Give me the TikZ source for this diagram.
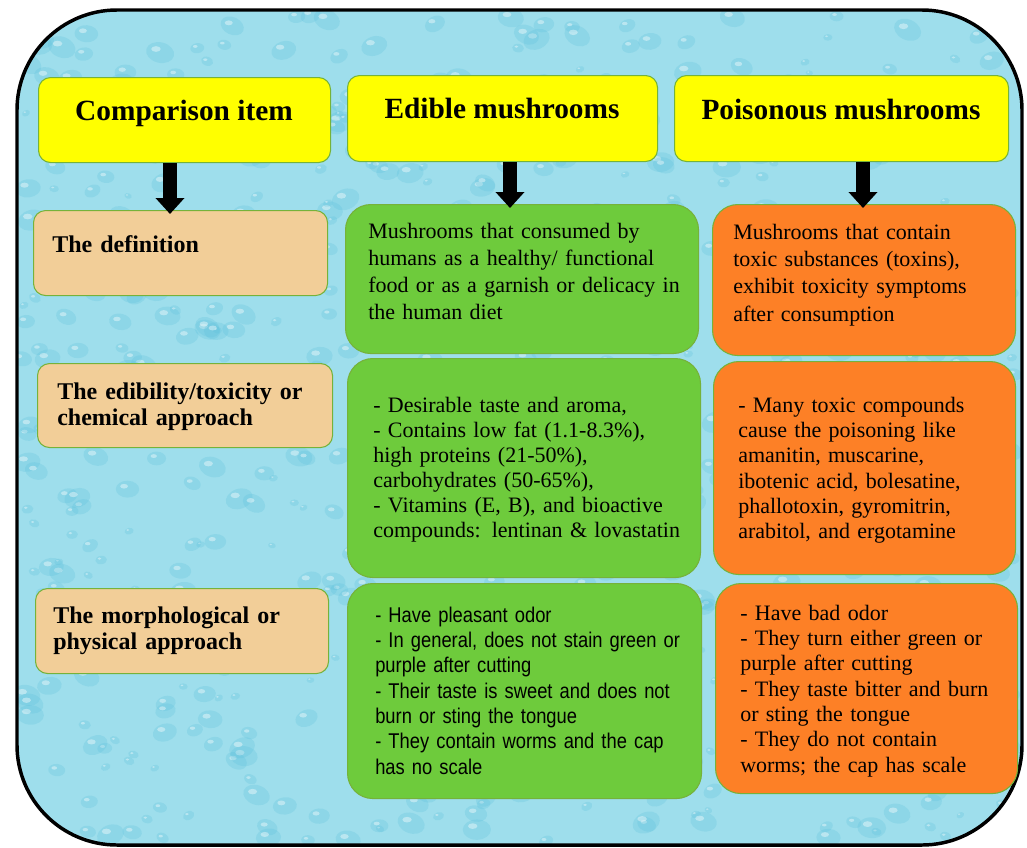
\documentclass[tikz,border=0pt]{standalone}
\usepackage{fontspec}
\setmainfont{Liberation Serif}
\newfontfamily\narrowsans[FakeStretch=0.86]{Liberation Sans}
\usetikzlibrary{arrows.meta}
\definecolor{waterblue}{RGB}{158,222,236}
\definecolor{dropblue}{RGB}{92,192,220}
\definecolor{hdryellow}{RGB}{255,255,0}
\definecolor{papyrus}{RGB}{242,206,152}
\definecolor{ediblegreen}{RGB}{110,203,60}
\definecolor{toxicorange}{RGB}{253,128,38}
\definecolor{boxedge}{RGB}{118,178,58}
\begin{document}
\begin{tikzpicture}[x=0.75pt,y=-0.75pt,
  box/.style={draw=boxedge, line width=0.8pt, anchor=north west, inner sep=0pt},
  hdrbox/.style={box, fill=hdryellow, rounded corners=9pt},
  itembox/.style={box, fill=papyrus, rounded corners=9pt},
  ediblebox/.style={box, fill=ediblegreen, rounded corners=19pt},
  toxicbox/.style={box, fill=toxicorange, rounded corners=19pt},
  hdrtext/.style={anchor=base, inner sep=0pt, font=\bfseries\fontsize{22}{26}\selectfont},
  itemtext/.style={anchor=base west, inner sep=0pt, align=left, text width=230pt, font=\bfseries\fontsize{18}{20}\selectfont},
  bodytext/.style={anchor=base west, inner sep=0pt, align=left, text width=250pt, font=\fontsize{16.5}{#1}\selectfont},
  sanstext/.style={anchor=base west, inner sep=0pt, align=left, text width=250pt, font=\narrowsans\fontsize{16}{19}\selectfont},
  downarrow/.style={line width=10pt, -{Triangle[width=21pt,length=12pt]}, shorten >=-3pt}]
\useasboundingbox (0,0) rectangle (1027,847);
% water drop background
\begin{scope}
\clip[rounded corners=75pt] (17,10) rectangle (1022,845);
\fill[waterblue] (0,0) rectangle (1027,847);
\pgfmathsetseed{42}
\foreach \i in {1,...,700}{
  \pgfmathsetmacro{\dx}{20+rnd*1000}
  \pgfmathsetmacro{\dy}{12+rnd*830}
  \pgfmathsetmacro{\dr}{3+rnd*9}
  \pgfmathsetmacro{\da}{rnd*60-30}
  \fill[dropblue, opacity=0.25, rotate around={\da:(\dx,\dy)}] (\dx,\dy) ellipse ({\dr*0.9pt} and {\dr*0.65pt});
  \fill[white, opacity=0.4] (\dx-0.35*\dr,\dy-0.3*\dr) ellipse ({\dr*0.3pt} and {\dr*0.18pt});
}
\end{scope}
\draw[line width=2.6pt, rounded corners=75pt] (17,10) rectangle (1022,845);

% headers
\node[hdrbox, minimum width=219pt, minimum height=63.75pt] (cmp) at (38,77) {};
\node[hdrbox, minimum width=232.5pt, minimum height=64.5pt] (edi) at (347,75) {};
\node[hdrbox, minimum width=250.5pt, minimum height=64.5pt] (poi) at (674,75) {};
\node[hdrtext] (cmp-t) at (184,120) {Comparison item};
\node[hdrtext] (edi-t) at (502,118) {Edible mushrooms};
\node[hdrtext] (poi-t) at (841,119) {Poisonous mushrooms};

% comparison items
\node[itembox, minimum width=220.5pt, minimum height=63.75pt] (defn) at (33,210) {};
\node[itembox, minimum width=221.25pt, minimum height=63pt] (chem) at (37,363) {};
\node[itembox, minimum width=219.75pt, minimum height=63.75pt] (morph) at (35,588) {};
\node[itemtext] (defn-t) at (52,252) {The definition};
\node[itemtext] (chem-t) at (57,399) {The edibility/toxicity or\\chemical approach};
\node[itemtext] (morph-t) at (53,623) {The morphological or\\physical approach};

% edible column
\node[ediblebox, minimum width=264.75pt, minimum height=111.75pt] (edidefn) at (345,204) {};
\node[ediblebox, minimum width=264.75pt, minimum height=164.25pt] (edichem) at (347,358) {};
\node[ediblebox, minimum width=265.5pt, minimum height=161.25pt] (edimorph) at (347,583) {};
\node[bodytext=20.25] (edidefn-t) at (368,238) {Mushrooms that consumed by\\humans as a healthy/ functional\\food or as a garnish or delicacy in\\the human diet};
\node[bodytext=18.75] (edichem-t) at (373,412) {- Desirable taste and aroma,\\- Contains low fat (1.1-8.3\%),\\high proteins (21-50\%),\\carbohydrates (50-65\%),\\- Vitamins (E, B), and bioactive\\compounds: lentinan \& lovastatin};
\node[sanstext] (edimorph-t) at (375,622) {- Have pleasant odor\\- In general, does not stain green or\\purple after cutting\\- Their taste is sweet and does not\\burn or sting the tongue\\- They contain worms and the cap\\has no scale};

% poisonous column
\node[toxicbox, minimum width=227.25pt, minimum height=113.25pt] (poidefn) at (712,204) {};
\node[toxicbox, minimum width=226.5pt, minimum height=159.75pt] (poichem) at (713,361) {};
\node[toxicbox, minimum width=226.5pt, minimum height=157.5pt] (poimorph) at (715,583) {};
\node[bodytext=20.5] (poidefn-t) at (733,239) {Mushrooms that contain\\toxic substances (toxins),\\exhibit toxicity symptoms\\after consumption};
\node[bodytext=19] (poichem-t) at (738,412) {- Many toxic compounds\\cause the poisoning like\\amanitin, muscarine,\\ibotenic acid, bolesatine,\\phallotoxin, gyromitrin,\\arabitol, and ergotamine};
\node[bodytext=19] (poimorph-t) at (740,620) {- Have bad odor\\- They turn either green or\\purple after cutting\\- They taste bitter and burn\\or sting the tongue\\- They do not contain\\worms; the cap has scale};

% arrows
\foreach \hd/\bx/\ax in {cmp/defn/170, edi/edidefn/510, poi/poidefn/863}{
\draw[downarrow] (\hd.south -| \ax,0) -- (\bx.north -| \ax,0);
}
\end{tikzpicture}
\end{document}
